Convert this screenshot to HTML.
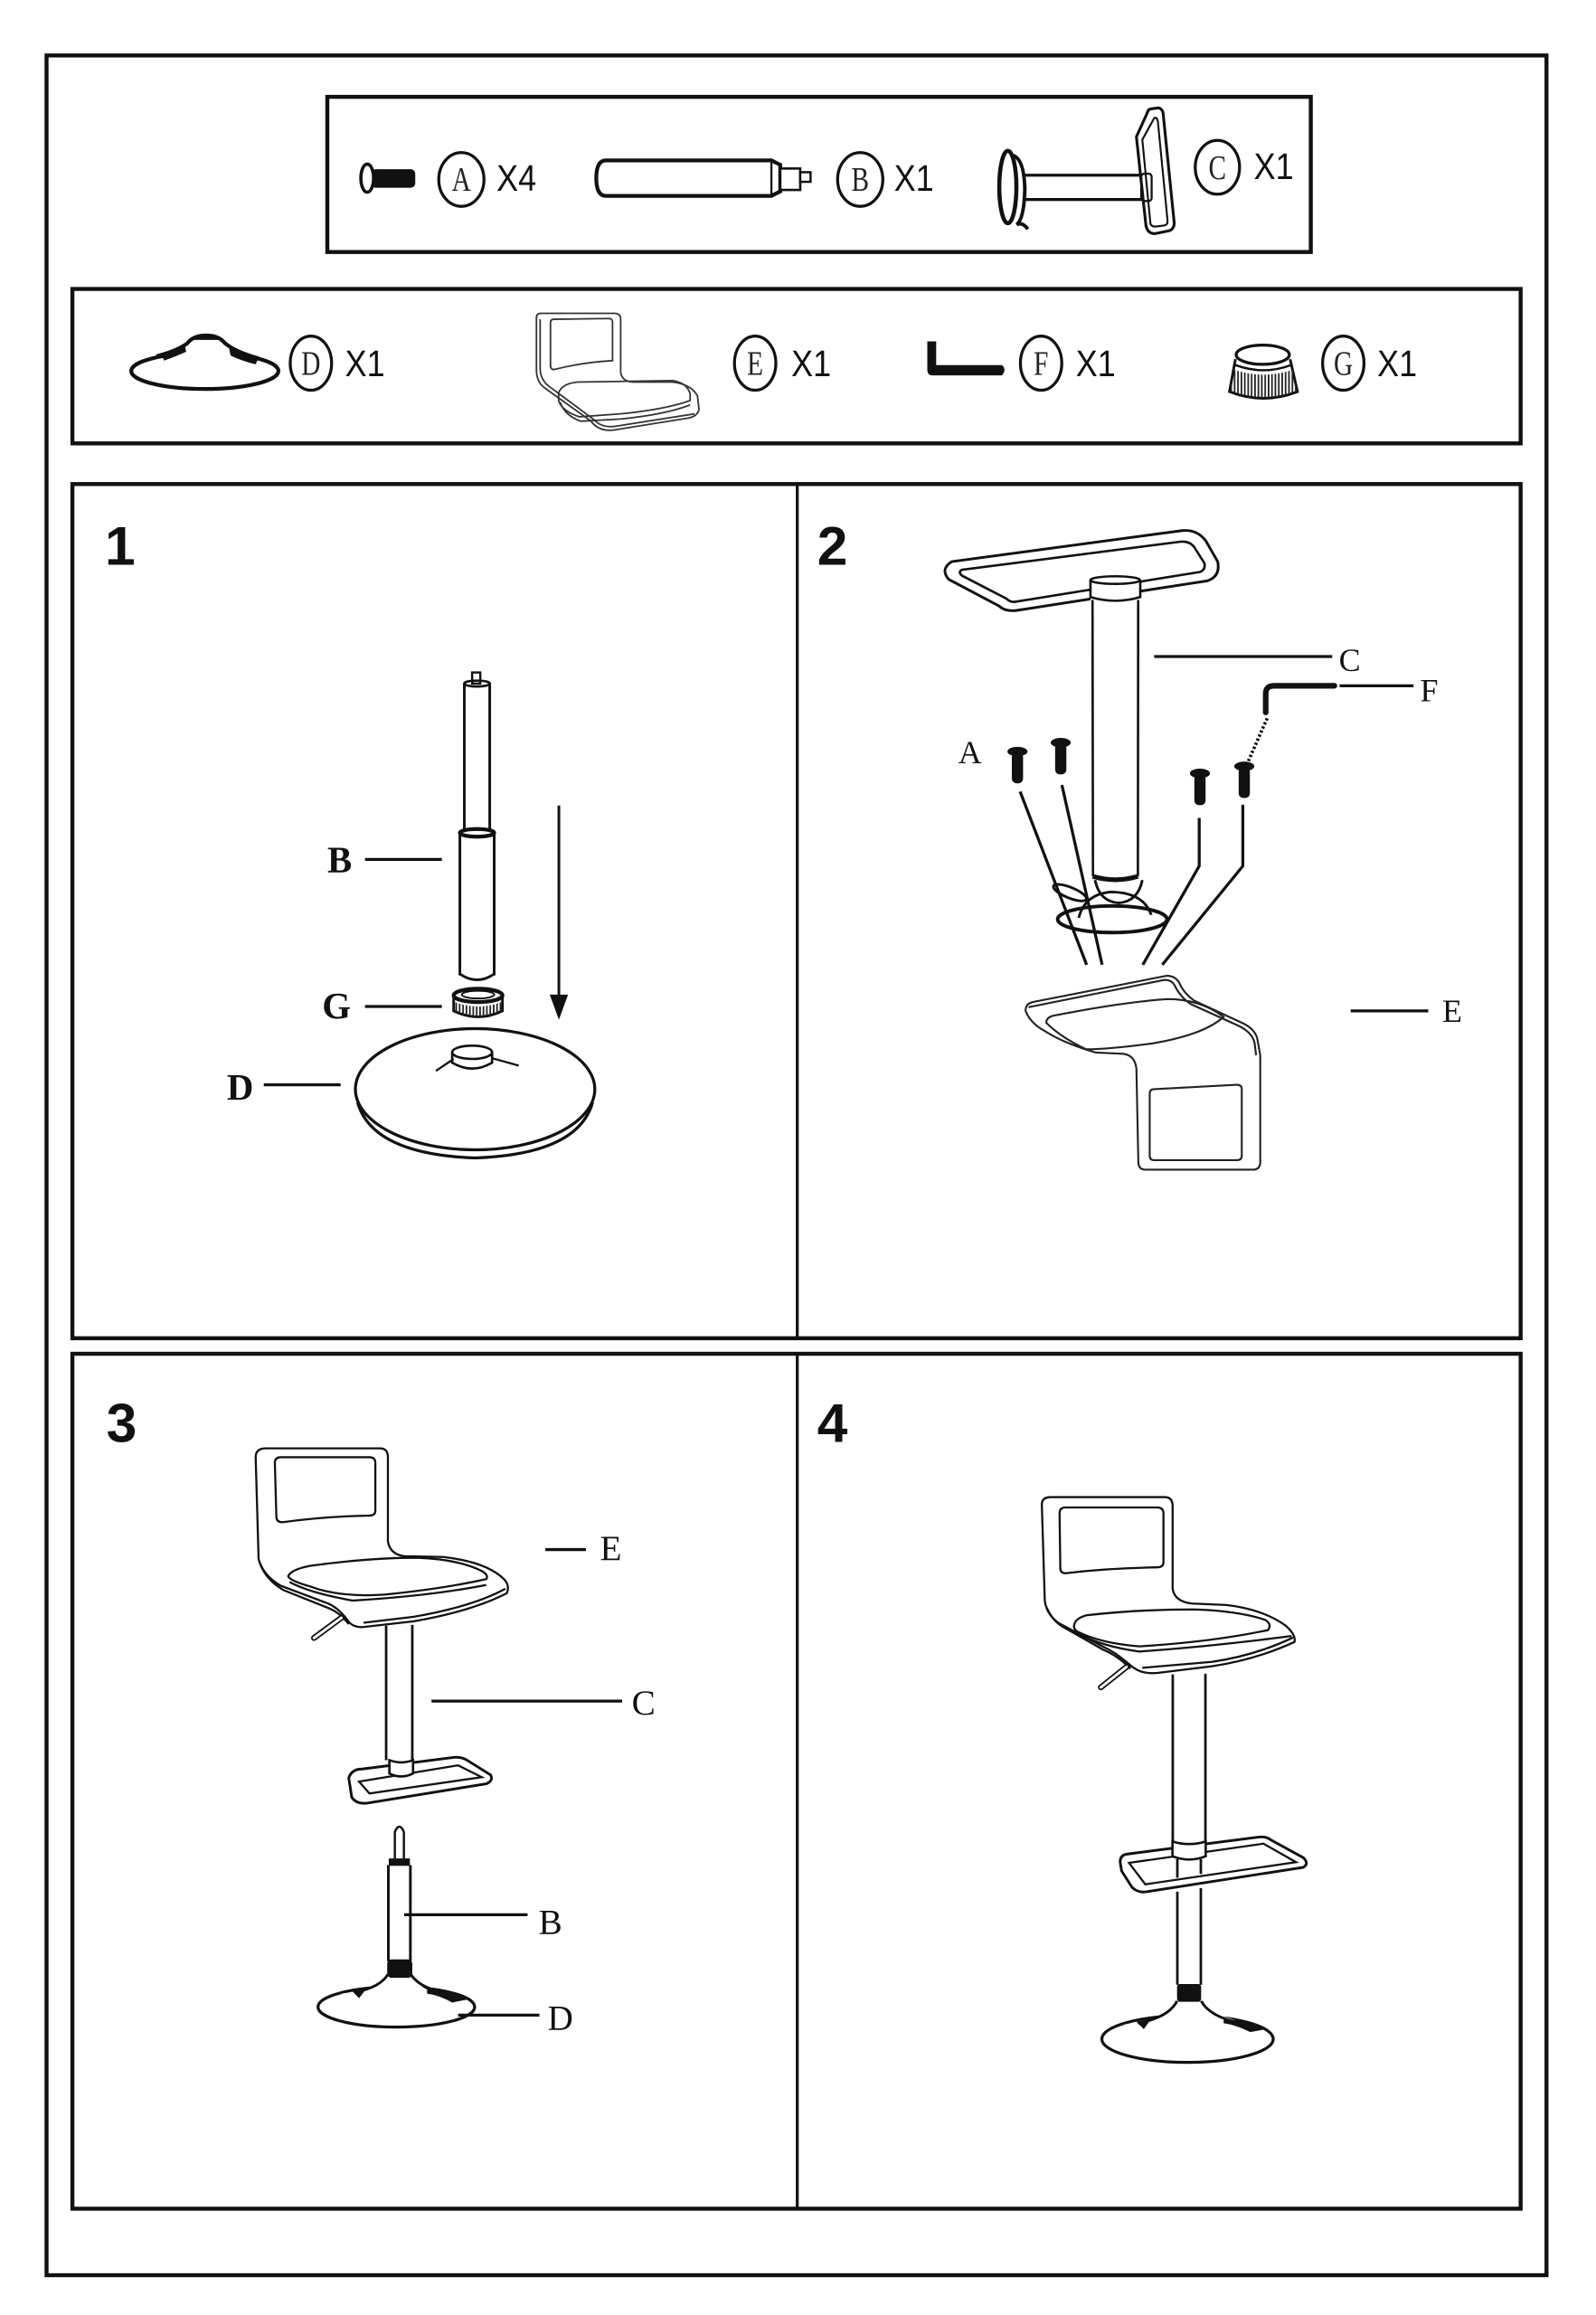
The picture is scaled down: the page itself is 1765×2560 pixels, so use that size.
<!DOCTYPE html>
<html><head><meta charset="utf-8">
<style>
html,body{margin:0;padding:0;background:#fff;}
svg{display:block;}
.serif{font-family:"Liberation Serif",serif;}
.sans{font-family:"Liberation Sans",sans-serif;}
</style></head><body>
<svg width="1765" height="2560" viewBox="0 0 1080 1566.4" xmlns="http://www.w3.org/2000/svg">
<defs>
<pattern id="kn" width="2.3" height="20" patternUnits="userSpaceOnUse"><rect width="1.1" height="20" fill="#222"/></pattern>
</defs>
<rect width="1080" height="1566.4" fill="#fff"/>

<!-- Frames -->
<g fill="none" stroke="#111" stroke-width="2.7">
 <rect x="31.5" y="37.5" width="1015" height="1502"/>
 <rect x="221.5" y="65.5" width="665.5" height="105"/>
 <rect x="49" y="195.5" width="980" height="104.5"/>
 <rect x="49" y="327.5" width="980" height="578"/>
 <line x1="539.5" y1="327.5" x2="539.5" y2="905.5" stroke-width="2"/>
 <rect x="49" y="916" width="980" height="578.5"/>
 <line x1="539.5" y1="916" x2="539.5" y2="1494.5" stroke-width="2"/>
</g>

<!-- Step numbers -->
<g class="sans" font-weight="bold" font-size="37" fill="#111">
 <text x="71" y="382">1</text>
 <text x="553" y="382">2</text>
 <text x="72" y="975.5">3</text>
 <text x="553" y="975.5">4</text>
</g>

<!-- ===== Top parts box ===== -->
<g stroke="#111" fill="none">
 <!-- A screw -->
 <rect x="251" y="114.5" width="30" height="12.5" rx="3" fill="#111" stroke="none"/>
 <ellipse cx="248.5" cy="120.5" rx="4.3" ry="9.5" fill="#fff" stroke-width="2.2"/>
 <ellipse cx="312.2" cy="121.4" rx="15.3" ry="18.2" stroke-width="2"/>
 <!-- B tube -->
 <path d="M410 108.5 L522 108.5 L528 111.5 L528 129.5 L522 132.5 L410 132.5 Q403.5 132.5 403.5 120.5 Q403.5 108.5 410 108.5 Z" fill="#fff" stroke-width="2.6"/>
 <line x1="522" y1="109" x2="522" y2="132" stroke-width="1.4"/>
 <rect x="528" y="114" width="13.5" height="14.5" stroke-width="1.6" fill="#fff"/>
 <rect x="541.5" y="116.5" width="7" height="6.5" stroke-width="1.5" fill="#fff"/>
 <ellipse cx="582.1" cy="121.4" rx="15.3" ry="18.2" stroke-width="2"/>
 <!-- C column -->
 <line x1="692.5" y1="118.5" x2="773" y2="118.5" stroke-width="2"/>
 <line x1="692.5" y1="135" x2="773" y2="135" stroke-width="2"/>
 <rect x="772.3" y="117.5" width="7" height="18.5" rx="2" stroke-width="1.4" fill="#fff"/>
 <ellipse cx="682" cy="126.5" rx="5.8" ry="24.5" stroke-width="2.8"/>
 <path d="M685 105 Q693 107 693.5 128 Q693 148 688 152 Q692 150 695.5 155" stroke-width="2.4"/>
 <path d="M780 73.5 Q777 73.5 776.5 76 L769 92.5 L775.5 153 Q777 158.5 782 158 L791.5 156 Q795 154.5 794.5 150 L787 76 Q786 73 783.5 73 Z" stroke-width="1.9" fill="none"/>
 <path d="M781 80 L773 94.5 L778.5 151.5 Q779.5 153.5 782 153.3 L788 152.5 Q790.5 152 790 148.5 L783.5 82 Q782.5 78.5 781 80 Z" stroke-width="1.3"/>
 <ellipse cx="823.8" cy="113.2" rx="15" ry="18.2" stroke-width="2"/>
</g>
<g class="serif" font-size="23" fill="#222" text-anchor="middle">
 <g transform="translate(312.2,121.4) scale(0.78,1)"><text y="7.8">A</text></g>
 <g transform="translate(582.1,121.4) scale(0.78,1)"><text y="7.8">B</text></g>
 <g transform="translate(823.8,113.2) scale(0.78,1)"><text y="7.8">C</text></g>
</g>
<g class="sans" font-size="25" fill="#111">
 <g transform="translate(336,129) scale(0.88,1)"><text>X4</text></g>
 <g transform="translate(605,129) scale(0.88,1)"><text>X1</text></g>
 <g transform="translate(848.5,121) scale(0.88,1)"><text>X1</text></g>
</g>

<!-- ===== Second parts box ===== -->
<g stroke="#111" fill="none">
 <!-- D base icon -->
 <ellipse cx="138.6" cy="251" rx="49.8" ry="12.2" stroke-width="2.6"/>
 <path d="M106 241 Q121 237 127 232 Q131 227 139.5 227 Q148 227 152 232 Q159 238 175 242.5" fill="#fff" stroke-width="2.6"/>
 <path d="M132 227.2 Q139.5 225.5 147.5 227.2 L149 230 L130.5 230 Z" fill="#111" stroke="none"/>
 <path d="M109.5 240 Q118 236.5 125 233.5 L126 238 Q118 241.5 111 244 Z" fill="#111" stroke="none"/>
 <path d="M155 235.5 Q163 240 175 242 L173 246.5 Q163 244 156 240.5 Z" fill="#111" stroke="none"/>
 <ellipse cx="210.4" cy="245.7" rx="14" ry="18.3" stroke-width="2"/>
 <!-- E seat icon -->
 <g stroke="#333" stroke-width="1.1">
  <path d="M363 215 Q363 212 366 212 L416 212 Q420 212 420 216 L420 252 Q421 258 428 258.5 L455 258.5 Q468 260 472 268 L473 277 Q472 282 465 283 L415 291 Q405 292 400 285 L368 262 Q363 258 363 250 Z"/>
  <path d="M365.5 216 L365.5 250 Q366 257 371 261 L402 284 Q407 289.5 416 288.5 L470 280"/>
  <path d="M372.5 218 Q372.5 216 375 216 L412 215.5 Q414.5 215.5 414.5 218 L414.5 244 Q395 245 375 250 Q372.5 250 372.5 247 Z"/>
  <path d="M378 266 Q380 259.5 391 258.5 L455 257.5 Q465 259 467 266.5 L467 271 Q450 277 420 280 L392 282 Q380 278 378 271 Z"/>
  <path d="M379 272 Q382 281 393 285 L420 283.5 Q450 280.5 467 274"/>
 </g>
 <ellipse cx="511" cy="245.7" rx="14" ry="18.3" stroke-width="2"/>
 <!-- F key -->
 <path d="M627.5 231 L633.5 231 L633.5 247 L678 247 Q681.5 250 678 254 L631 254 Q627.5 254 627.5 250 Z" fill="#111" stroke="none"/>
 <ellipse cx="704.5" cy="245.7" rx="14" ry="18.3" stroke-width="2"/>
 <!-- G cap -->
 <path d="M836 243 L832 265 Q855 274 878 265 L873 243" fill="#fff" stroke-width="1.8"/>
 <path d="M834.5 250 L832.5 265 Q855 273 877.5 265 L875.5 250 Q855 257 834.5 250 Z" fill="url(#kn)" stroke="none"/>
 <ellipse cx="854.5" cy="240" rx="18" ry="6.5" fill="#fff" stroke-width="2"/>
 <path d="M836 247 Q855 254 873.5 247" stroke-width="1.5"/>
 <ellipse cx="909" cy="245.7" rx="14" ry="18.3" stroke-width="2"/>
</g>
<g class="serif" font-size="23" fill="#222" text-anchor="middle">
 <g transform="translate(210.4,245.7) scale(0.78,1)"><text y="7.8">D</text></g>
 <g transform="translate(511,245.7) scale(0.78,1)"><text y="7.8">E</text></g>
 <g transform="translate(704.5,245.7) scale(0.78,1)"><text y="7.8">F</text></g>
 <g transform="translate(909,245.7) scale(0.78,1)"><text y="7.8">G</text></g>
</g>
<g class="sans" font-size="25" fill="#111">
 <g transform="translate(233.5,254.5) scale(0.88,1)"><text>X1</text></g>
 <g transform="translate(535.5,254.5) scale(0.88,1)"><text>X1</text></g>
 <g transform="translate(728,254.5) scale(0.88,1)"><text>X1</text></g>
 <g transform="translate(932,254.5) scale(0.88,1)"><text>X1</text></g>
</g>

<!-- ===== Panel 1 ===== -->
<g stroke="#111" fill="none" stroke-width="1.8">
 <rect x="319.5" y="455" width="5.5" height="7.5" fill="#fff" stroke-width="1.5"/>
 <ellipse cx="322.8" cy="462.5" rx="8.7" ry="2" stroke-width="1.6"/>
 <line x1="314.2" y1="462.5" x2="314.2" y2="563"/>
 <line x1="331.4" y1="462.5" x2="331.4" y2="563"/>
 <line x1="311.2" y1="564" x2="311.2" y2="660"/>
 <line x1="334.4" y1="564" x2="334.4" y2="660"/>
 <ellipse cx="322.8" cy="563.5" rx="11.6" ry="2.6" stroke-width="2.6"/>
 <path d="M311.2 659 Q322.8 667 334.4 659"/>
 <!-- nut -->
 <path d="M307 674 L307 684 Q323.5 692 340 684 L340 674" fill="#fff"/>
 <path d="M307.5 678 L307.5 684 Q323.5 692 339.5 684 L339.5 678 Q323.5 684 307.5 678 Z" fill="url(#kn)" stroke="none"/>
 <ellipse cx="323.5" cy="673.5" rx="16.5" ry="4.5" fill="#fff" stroke-width="2.6"/>
 <ellipse cx="323.5" cy="673" rx="11" ry="2.6" stroke-width="1.2"/>
 <!-- arrow -->
 <line x1="378.2" y1="545" x2="378.2" y2="678" stroke-width="1.8"/>
 <path d="M372 673 L384.4 673 L378.2 690 Z" fill="#111" stroke="none"/>
 <!-- base -->
 <path d="M242 746 Q252 781 321.5 783.5 Q391 781 401 746" stroke-width="2"/>
 <ellipse cx="321.5" cy="737" rx="81" ry="41" fill="#fff" stroke-width="2"/>
 <ellipse cx="319.5" cy="712" rx="13.5" ry="4.5" stroke-width="1.6"/>
 <path d="M306 712 L306 719 Q319.5 727 333 719 L333 712" stroke-width="1.6"/>
 <line x1="295" y1="724.6" x2="307" y2="716.5" stroke-width="1.4"/>
 <line x1="333" y1="716" x2="351" y2="721" stroke-width="1.4"/>
 <!-- label lines -->
 <g stroke-width="2">
  <line x1="247" y1="581.5" x2="299" y2="581.5"/>
  <line x1="247" y1="681" x2="299" y2="681"/>
  <line x1="178.5" y1="734" x2="230.5" y2="734"/>
 </g>
</g>
<g class="serif" font-weight="bold" font-size="25" fill="#111">
 <text x="221.5" y="590">B</text>
 <text x="218" y="689">G</text>
 <text x="153.5" y="744">D</text>
</g>

<!-- ===== Panel 2 ===== -->
<g stroke="#111" fill="none" stroke-width="1.6">
 <!-- footrest -->
 <path d="M644 380 L800 359 Q810 358 816 366 L824 380 Q826 390 817 393 L688 413 Q680 414 676 410 L642 392 Q636 385 644 380 Z" stroke-width="1.8"/>
 <path d="M651 385.5 L799 366.5 Q805 366 808 370 L815 381 Q816 385.5 812 387 L688 407 Q684 408 681 405 L651 389.5 Q648 387 651 385.5 Z" stroke-width="1.6"/>
 <!-- column -->
 <rect x="738" y="392" width="33.5" height="200" fill="#fff" stroke="none"/>
 <ellipse cx="754.7" cy="392.5" rx="16.8" ry="2.6" fill="#fff"/>
 <path d="M737.9 392.5 L737.9 404 Q754.7 409 771.6 404 L771.6 392.5"/>
 <line x1="739.3" y1="406" x2="739.6" y2="593"/>
 <line x1="770.2" y1="406" x2="770" y2="593"/>
 <path d="M739.5 593 Q754.7 597.5 770 593" stroke-width="3.2"/>
 <path d="M741 595.5 Q744 610 757 611 Q770 610 773 595.5" stroke-width="1.8"/>
 <path d="M730 621 Q734 605 752 603.5 Q774 604 779 619" stroke-width="1.8"/>
 <ellipse cx="724" cy="604" rx="12" ry="3.6" transform="rotate(22 724 604)" stroke-width="1.8"/>
 <ellipse cx="752.7" cy="622" rx="37" ry="9" stroke-width="2.4"/>
 <!-- screw leader lines -->
 <g stroke-width="2">
  <polyline points="690.3,535.6 735.3,652.8"/>
  <polyline points="718.6,531.2 745.8,652.8"/>
  <polyline points="811.5,553.4 811.5,586 773.3,652.8"/>
  <polyline points="841,544.5 841,586 786.5,652.8"/>
 </g>
 <!-- dotted -->
 <line x1="857.5" y1="486" x2="844.5" y2="515.5" stroke-width="2.2" stroke-dasharray="1.6 1.4"/>
 <!-- F key -->
 <path d="M856.5 482 L856.5 469.5 Q856.5 464 862 464 L903 464" stroke-width="3.8" stroke-linecap="round"/>
 <!-- label lines -->
 <g stroke-width="2">
  <line x1="781" y1="444.2" x2="901.5" y2="444.2"/>
  <line x1="906.5" y1="464" x2="956.5" y2="464"/>
  <line x1="914" y1="684" x2="966.5" y2="684"/>
 </g>
 <!-- seat E -->
 <g stroke-width="1.3" stroke="#222">
  <path d="M694 684 Q694 679 699 678 L789 660.3 Q795 660 798 665 Q801 672 808 677 L839 691.4 Q850 696 851 704 L852.8 714 L852.8 786 Q852.8 791.4 848 791.4 L775 791.4 Q770.3 791.4 770.3 786 L769 723 Q768 714 760 713 L741.6 712.2 Q720 706 706.6 697.4 Q697 692 694 684 Z"/>
  <path d="M696 681.5 L788 663 Q793 663 795 667 Q799 675 806 679.5 L838 694 Q847.5 698.5 849 706 L850 714"/>
  <path d="M708 692 Q708 688 714 687 Q760 678 790 676 Q812 676 828 688 Q815 700 780 706 Q750 710 735 710 Q718 702 708 692 Z"/>
  <path d="M778 740 Q778 737 781 737 L837 734 Q840.3 734 840.3 737 L840.3 782 Q840.3 785 837 785 L781 785 Q778 785 778 782 Z"/>
 </g>
</g>
<!-- screws -->
<g fill="#111">
 <ellipse cx="688.5" cy="508.5" rx="6.8" ry="3.2"/><rect x="684.7" y="509" width="7.6" height="21" rx="3.2"/>
 <ellipse cx="717.8" cy="502.5" rx="6.8" ry="3.2"/><rect x="714" y="503" width="7.6" height="21" rx="3.2"/>
 <ellipse cx="812" cy="523.3" rx="6.8" ry="3.2"/><rect x="808.2" y="523.8" width="7.6" height="21" rx="3.2"/>
 <ellipse cx="842" cy="518.5" rx="6.8" ry="3.2"/><rect x="838.2" y="519" width="7.6" height="21" rx="3.2"/>
</g>
<g class="serif" font-size="22" fill="#111">
 <text x="906" y="454">C</text>
 <text x="961" y="474.5">F</text>
 <text x="648.5" y="516.3">A</text>
 <text x="976" y="691.5">E</text>
</g>

<!-- ===== Panel 3 ===== -->
<g stroke="#111" fill="none" stroke-width="1.4">
 <!-- shell -->
 <path d="M173 986 Q173 980 180 980 L257 980 Q262.5 980 262.5 986 L262.5 1043 Q264 1052 274 1053 L300 1053.5 Q330 1057 341.5 1069 Q345 1073 343 1078 Q320 1090 280 1097 L245 1101 Q238 1101 235 1096 Q229 1088 222 1085 L190 1073 Q178 1066 175 1055 Z" fill="#fff"/>
 <path d="M176 1058 Q180 1069 192 1076 L222 1088 Q230 1091 236 1099"/>
 <path d="M246 1098 L280 1094 Q320 1087 342 1075"/>
 <!-- backrest inner -->
 <path d="M186 990 Q186 986 190 986 L250 986 Q254 986 254 990 L254 1022 Q254 1025.5 250 1025.5 Q220 1026 191 1030 Q187 1030 187 1026 Z"/>
 <!-- cushion -->
 <path d="M195 1066.5 Q197 1062 210 1059.5 Q250 1054 282 1054 Q310 1055 326 1063 Q331 1066 329 1068.5 Q300 1075 260 1079 Q230 1081 210 1073.5 Q196 1069.5 195 1066.5 Z"/>
 <path d="M196 1070.5 Q210 1078 238.7 1083 Q290 1080 329 1072.5"/>
 <!-- lever -->
 <line x1="231.5" y1="1094.3" x2="212.5" y2="1108.3" stroke-width="4" stroke-linecap="round"/>
 <line x1="231" y1="1094.7" x2="212.5" y2="1108.3" stroke="#fff" stroke-width="1.8" stroke-linecap="round"/>
 <!-- column -->
 <line x1="261.3" y1="1100" x2="261.3" y2="1191" stroke-width="1.7"/>
 <line x1="279" y1="1099.5" x2="279" y2="1191" stroke-width="1.7"/>
 <!-- footrest -->
 <path d="M236 1203 Q238 1197 245 1197 L308 1189 Q313 1189 316 1191 L332 1201 Q334 1205 329 1207 L249 1220 Q241 1221 238 1216 Z" stroke-width="1.8"/>
 <path d="M243 1205.5 L310 1194.5 L326 1202.5 L250 1213.5 Z"/>
 <path d="M263.5 1191 L263.5 1200 Q271.5 1204 279.5 1200 L279.5 1191 Q271.5 1194 263.5 1191 Z" fill="#fff" stroke-width="1.6"/>
 <!-- lower: gas + base -->
 <path d="M267.2 1257.5 L267.2 1239.5 Q270.2 1232.5 273.3 1239.5 L273.3 1257.5" stroke-width="1.5"/>
 <rect x="263.1" y="1257.5" width="14.3" height="5" fill="#111" stroke="none"/>
 <line x1="262.8" y1="1262" x2="262.8" y2="1327" stroke-width="1.8"/>
 <line x1="277.7" y1="1262" x2="277.7" y2="1327" stroke-width="1.8"/>
 <ellipse cx="268.2" cy="1358" rx="53" ry="13.6" stroke-width="2"/>
 <path d="M262.5 1336 Q258 1344 243 1347.5 L230 1349 L295 1349 Q282 1344 278 1336 Z" fill="#fff" stroke="none"/>
 <path d="M262.5 1336 Q257 1345 240 1348" stroke-width="1.8"/>
 <path d="M278 1336 Q284 1345 300 1348" stroke-width="1.8"/>
 <rect x="262" y="1325.8" width="17" height="12.5" rx="3" fill="#111" stroke="none"/>
 <path d="M238 1347 L248 1345.5 L243 1352 Z" fill="#111" stroke="none"/>
 <path d="M289 1346 Q305 1348 316 1353 L306 1355 Q297 1350 289 1349 Z" fill="#111" stroke="none"/>
 <!-- label lines -->
 <g stroke-width="2">
  <line x1="369" y1="1048.5" x2="396.5" y2="1048.5"/>
  <line x1="292" y1="1151" x2="421" y2="1151"/>
  <line x1="273.5" y1="1295.6" x2="357" y2="1295.6"/>
  <line x1="310" y1="1363.5" x2="365" y2="1363.5"/>
 </g>
</g>
<g class="serif" font-size="24" fill="#111">
 <text x="406" y="1055.5">E</text>
 <text x="427.5" y="1160">C</text>
 <text x="364.5" y="1308.5">B</text>
 <text x="370.5" y="1373.5">D</text>
</g>

<!-- ===== Panel 4 ===== -->
<g stroke="#111" fill="none" stroke-width="1.4">
 <path d="M705 1018 Q705 1013 711 1013 L788 1013 Q793.5 1013 793.5 1019 L793.5 1075 Q795 1084 807 1085 L830 1086 Q855 1089 870 1100 Q877 1106 876 1111 Q850 1123 820 1127.5 L787 1131.5 Q778 1133 772 1131 Q767 1129 764 1126 Q755 1118 746 1114 L716 1098 Q708 1092 707 1083 Z" fill="#fff"/>
 <path d="M708 1087 Q711 1095 718 1100 L746 1116 Q756 1120 765 1129"/>
 <path d="M773 1128.5 L820 1124.5 Q850 1120 875 1108"/>
 <path d="M717 1024 Q717 1020 721 1020 L783 1020 Q787.3 1020 787.3 1024 L787.3 1057 Q787.3 1060.5 783 1060.5 Q750 1061 721 1064.5 Q717.5 1064.5 717.5 1061 Z"/>
 <path d="M727 1099 Q728 1095 735 1093 Q770 1089 808 1089 Q838 1090 856 1096 Q861 1099 858 1103 Q820 1111 771 1114 Q745 1112 729 1104 Q726 1102 727 1099 Z"/>
 <path d="M729 1105 Q745 1114 771 1117.5 Q820 1114 874 1107"/>
 <!-- lever -->
 <line x1="762.8" y1="1127.5" x2="745" y2="1141.7" stroke-width="4" stroke-linecap="round"/>
 <line x1="762.3" y1="1127.9" x2="745" y2="1141.7" stroke="#fff" stroke-width="1.8" stroke-linecap="round"/>
 <!-- upper column -->
 <line x1="793.6" y1="1133" x2="793.6" y2="1246" stroke-width="1.7"/>
 <line x1="815.7" y1="1132.5" x2="815.7" y2="1246" stroke-width="1.7"/>
 <!-- footrest -->
 <path d="M758 1260 Q758 1255 763 1254.5 L852 1243 Q857 1242.5 860 1245 L882 1257 Q886 1261 882 1263.5 L776 1280 Q770 1281 766 1277 L759 1266 Z" stroke-width="1.8"/>
 <path d="M764 1260.5 L855 1247.5 L877 1260 L775 1275 Z"/>
 <rect x="797.5" y="1256" width="14.5" height="13" fill="#fff" stroke="none"/>
 <path d="M793.4 1246 L793.4 1256 Q804.6 1260.5 815.9 1256 L815.9 1246 Q804.6 1249.5 793.4 1246 Z" fill="#fff" stroke-width="1.6"/>
 <!-- lower column -->
 <line x1="796.7" y1="1258" x2="796.7" y2="1270.5" stroke-width="1.7"/>
 <line x1="812.6" y1="1258" x2="812.6" y2="1268" stroke-width="1.7"/>
 <line x1="796.7" y1="1280" x2="796.7" y2="1343" stroke-width="1.7"/>
 <line x1="812.6" y1="1277.5" x2="812.6" y2="1343" stroke-width="1.7"/>
 <!-- base -->
 <ellipse cx="803.6" cy="1379.7" rx="58" ry="15.8" stroke-width="2"/>
 <path d="M796.5 1354 Q790 1364 772 1368 L760 1370 L850 1370 Q818 1364 812.8 1354 Z" fill="#fff" stroke="none"/>
 <path d="M796.5 1354 Q791 1365 770 1369" stroke-width="1.8"/>
 <path d="M812.8 1354 Q819 1365 840 1369" stroke-width="1.8"/>
 <rect x="796.5" y="1342.5" width="16.3" height="12" rx="2" fill="#111" stroke="none"/>
 <path d="M769 1368 L779 1366 L774 1373 Z" fill="#111" stroke="none"/>
 <path d="M828 1366 Q845 1367 857 1373 L846 1375 Q836 1370 828 1369 Z" fill="#111" stroke="none"/>
</g>
</svg>
</body></html>
